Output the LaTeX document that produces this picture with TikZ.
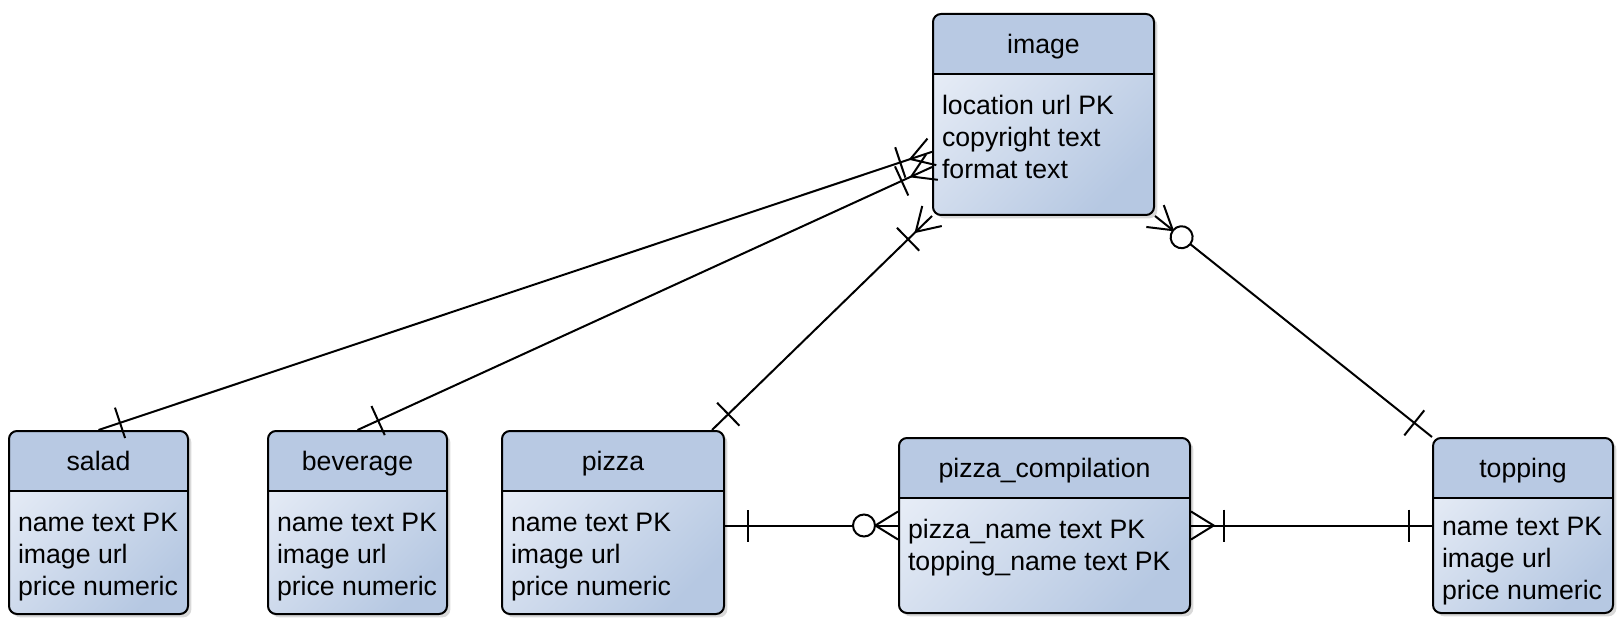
\documentclass[tikz,border=0pt]{standalone}
\usepackage{fontspec}
\setmainfont{Liberation Sans}
\usetikzlibrary{shadows,decorations.markings}

\definecolor{hdrblue}{HTML}{B8C9E3}
\definecolor{bodylight}{HTML}{E6ECF6}
\definecolor{bodydark}{HTML}{B6C8E2}

\begin{document}
\begin{tikzpicture}[
  x=0.75pt, y=0.75pt,
  ent/.style={rectangle, draw=black, line width=1.5pt, rounded corners=6pt, inner sep=0pt,
    top color=bodylight, bottom color=bodydark, shading angle=45,
    drop shadow={opacity=0.3, shadow xshift=2.5pt, shadow yshift=-2.5pt},
    path picture={
      \fill[hdrblue, sharp corners] (path picture bounding box.north west) rectangle ([yshift=-45pt]path picture bounding box.north east);
      \draw[line width=1.5pt, sharp corners] ([yshift=-45pt]path picture bounding box.north west) -- ([yshift=-45pt]path picture bounding box.north east);
    }},
  hdr/.style={anchor=west, minimum width=#1, minimum height=45pt, inner sep=0pt,
    text height=14pt, text depth=0pt, font=\fontsize{20pt}{24pt}\selectfont},
  row/.style={anchor=west, inner xsep=6.75pt, inner ysep=0pt,
    text height=17pt, text depth=7pt, font=\fontsize{20pt}{24pt}\selectfont},
  conn/.style={line width=1.5pt, black, sharp corners},
  one start/.style={postaction={decorate, decoration={markings,
    mark=at position 0 with {\draw[conn] (17pt,-12pt) -- (17pt,12pt);}}}},
  onemany end/.style={postaction={decorate, decoration={markings,
    mark=at position 1 with {\draw[conn] (0pt,10.5pt) -- (-17pt,0pt) -- (0pt,-10.5pt);
      \draw[conn] (-25pt,-12pt) -- (-25pt,12pt);}}}},
  zeromany end/.style={postaction={decorate, decoration={markings,
    mark=at position 1 with {\draw[conn] (0pt,10.5pt) -- (-17pt,0pt) -- (0pt,-10.5pt);
      \draw[conn, fill=white] (-25.5pt,0pt) circle (8.25pt);}}}}
]
  \useasboundingbox (0,0) rectangle (1619,-623);

  %% ── Top: image ─────────────────────────────────────────────────────────────
  \matrix[ent, anchor=north west, ampersand replacement=\&] (image) at (932,-13) {
    \node[hdr=165.75pt]{image}; \\[13.75pt]
    \node[row]{location url PK}; \\
    \node[row]{copyright text}; \\
    \node[row, text depth=27pt]{format text}; \\
  };

  %% ── Bottom row: salad · beverage · pizza · pizza_compilation · topping ─────
  \matrix[ent, anchor=north west, ampersand replacement=\&] (salad) at (8,-430) {
    \node[hdr=134.25pt]{salad}; \\[13.25pt]
    \node[row]{name text PK}; \\
    \node[row]{image url}; \\
    \node[row, text depth=14pt]{price numeric}; \\
  };
  \matrix[ent, anchor=north west, ampersand replacement=\&] (beverage) at (267,-430) {
    \node[hdr=134.25pt]{beverage}; \\[13.25pt]
    \node[row]{name text PK}; \\
    \node[row]{image url}; \\
    \node[row, text depth=14pt]{price numeric}; \\
  };
  \matrix[ent, anchor=north west, ampersand replacement=\&] (pizza) at (501,-430) {
    \node[hdr=166.5pt]{pizza}; \\[13.25pt]
    \node[row]{name text PK}; \\
    \node[row]{image url}; \\
    \node[row, text depth=14pt]{price numeric}; \\
  };
  \matrix[ent, anchor=north west, ampersand replacement=\&] (pc) at (898,-437) {
    \node[hdr=218.25pt]{pizza\_compilation}; \\[13.25pt]
    \node[row]{pizza\_name text PK}; \\
    \node[row, text depth=32pt]{topping\_name text PK}; \\
  };
  \matrix[ent, anchor=north west, ampersand replacement=\&] (topping) at (1432,-437) {
    \node[hdr=135pt]{topping}; \\[11pt]
    \node[row]{name text PK}; \\
    \node[row]{image url}; \\
    \node[row, text depth=10.25pt]{price numeric}; \\
  };

  %% ── Relations ──────────────────────────────────────────────────────────────
  % salad → image  (1 to 1..N)
  \draw[conn, one start, onemany end] (salad.north) -- ([yshift=-28pt]image.west);
  % beverage → image  (1 to 1..N)
  \draw[conn, one start, onemany end] (beverage.north) -- ([yshift=-39.4pt]image.west);
  % pizza → image  (1 to 1..N)
  \draw[conn, one start, onemany end] ([xshift=-9.75pt]pizza.north east) -- (image.south west);
  % topping → image  (1 to 0..N)
  \draw[conn, one start, zeromany end] (topping.north west) -- (image.south east);
  % pizza → pizza_compilation  (1 to 0..N)
  \draw[conn, one start, zeromany end] (pizza.east |- pc.west) -- (pc.west);
  % topping → pizza_compilation  (1 to 1..N)
  \draw[conn, one start, onemany end] (topping.west) -- (pc.east);
\end{tikzpicture}
\end{document}
